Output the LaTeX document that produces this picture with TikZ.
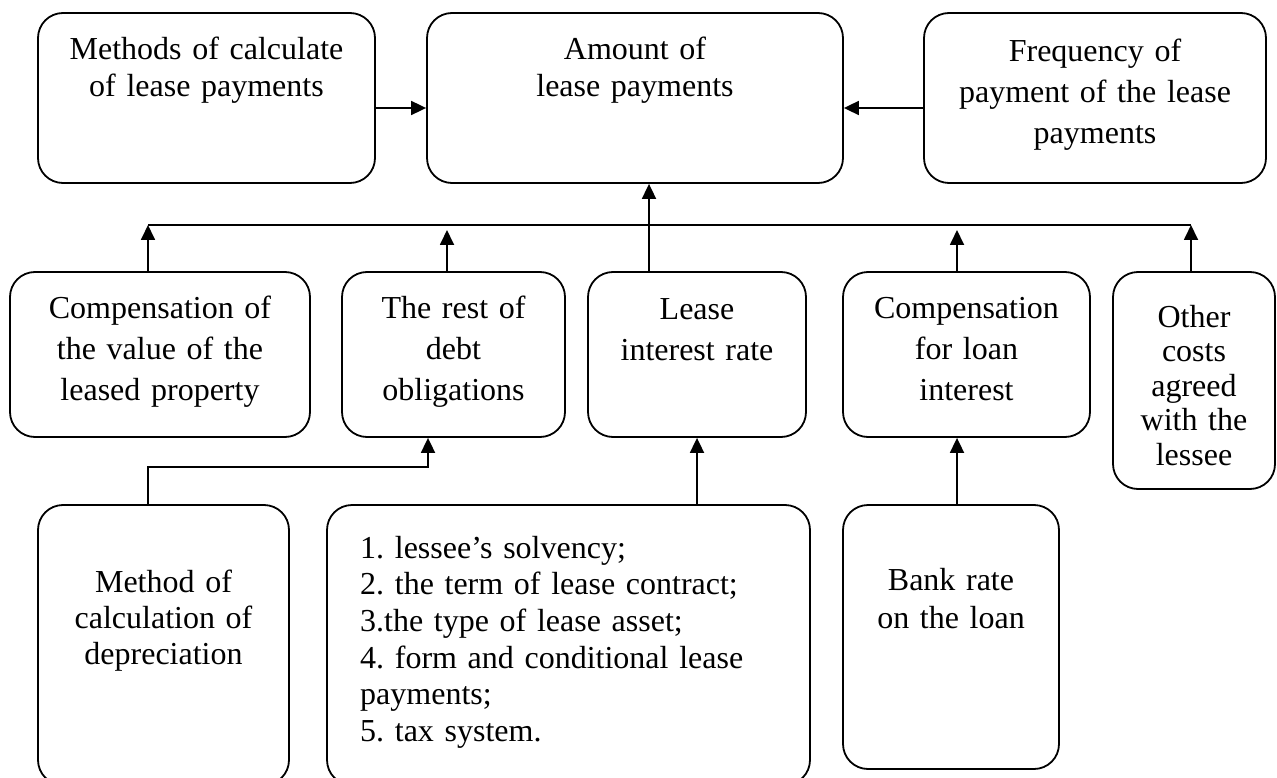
\documentclass[tikz,border=0pt]{standalone}
\usepackage{fontspec}
\setmainfont{Liberation Serif}
\usetikzlibrary{arrows.meta}
\frenchspacing
\begin{document}
\begin{tikzpicture}[x=1pt,y=-1pt,
  box/.style={draw, line width=1.8pt, rounded corners=25pt, inner sep=0pt},
  txt/.style={inner sep=0pt, anchor=base, align=center, font=\fontsize{32pt}{37pt}\selectfont},
  txtw/.style={inner sep=0pt, anchor=base, align=center, font=\fontsize{32pt}{41pt}\selectfont},
  arr/.style={line width=1.8pt, -{Triangle[length=15pt,width=14pt]}},
  bus/.style={line width=1.4pt}]
\useasboundingbox (0,0) rectangle (1277,778);
% top row
\node[box, minimum width=337pt, minimum height=170pt] (A) at (206.5,98) {};
\node[box, minimum width=416pt, minimum height=170pt] (B) at (635,98) {};
\node[box, minimum width=342pt, minimum height=170pt] (C) at (1095,98) {};
% middle row
\node[box, minimum width=300pt, minimum height=165pt] (D) at (160,354.5) {};
\node[box, minimum width=223pt, minimum height=165pt] (E) at (453.5,354.5) {};
\node[box, minimum width=218pt, minimum height=165pt] (F) at (697,354.5) {};
\node[box, minimum width=247pt, minimum height=165pt] (G) at (966.5,354.5) {};
\node[box, minimum width=162pt, minimum height=217pt] (H) at (1194,380.5) {};
% bottom row
\node[box, minimum width=251pt, minimum height=280pt] (I) at (163.5,645) {};
\node[box, minimum width=483pt, minimum height=280pt] (J) at (568.5,645) {};
\node[box, minimum width=216pt, minimum height=264pt] (K) at (951,637) {};
% texts
\node[txt, text width=327pt] (tA) at (206.5,60) {Methods of calculate\\of lease payments};
\node[txt, text width=400pt] (tB) at (635,60) {Amount of\\lease payments};
\node[txtw, text width=330pt] (tC) at (1095,62) {Frequency of\\payment of the lease\\payments};
\node[txtw, text width=290pt] (tD) at (160,318) {Compensation of\\the value of the\\leased property};
\node[txtw, text width=213pt] (tE) at (453.5,318) {The rest of\\debt\\obligations};
\node[txtw, text width=208pt] (tF) at (697,319) {Lease\\interest rate};
\node[txtw, text width=237pt] (tG) at (966.5,318) {Compensation\\for loan\\interest};
\node[txt, text width=152pt, font=\fontsize{32pt}{34.6pt}\selectfont] (tH) at (1194,327) {Other\\costs\\agreed\\with the\\lessee};
\node[txt, text width=241pt, font=\fontsize{32pt}{36pt}\selectfont] (tI) at (163.5,592) {Method of\\calculation of\\depreciation};
\node[txt, anchor=base west, align=left, text width=440pt, font=\fontsize{32pt}{36.7pt}\selectfont] (tJ) at (360,558) {1. lessee’s solvency;\\2. the term of lease contract;\\3.the type of lease asset;\\4. form and conditional lease\\payments;\\5. tax system.};
\node[txt, text width=206pt, font=\fontsize{32pt}{38pt}\selectfont] (tK) at (951,590) {Bank rate\\on the loan};
% connectors
\coordinate (lv) at (0,108);
\draw[arr] (A.east |- lv) -- (B.west |- lv);
\draw[arr] (C.west |- lv) -- (B.east |- lv);
\coordinate (busL) at (148,225);
\coordinate (busR) at (1191,225);
\draw[bus] (busL) -- (busR);
\draw[arr] (D.north -| busL) -- (busL);
\coordinate (eT) at (447,230);
\draw[arr] (E.north -| eT) -- (eT);
\coordinate (fb) at (649,0);
\draw[arr] (F.north -| fb) -- (B.south -| fb);
\coordinate (gT) at (957,230);
\draw[arr] (G.north -| gT) -- (gT);
\draw[arr] (H.north -| busR) -- (busR);
\coordinate (ie) at (148,467);
\coordinate (ie2) at (428,467);
\draw[arr] (I.north -| ie) -- (ie) -- (ie2) -- (E.south -| ie2);
\draw[arr] (J.north -| F.south) -- (F.south);
\coordinate (kg) at (957,0);
\draw[arr] (K.north -| kg) -- (G.south -| kg);
\end{tikzpicture}
\end{document}
